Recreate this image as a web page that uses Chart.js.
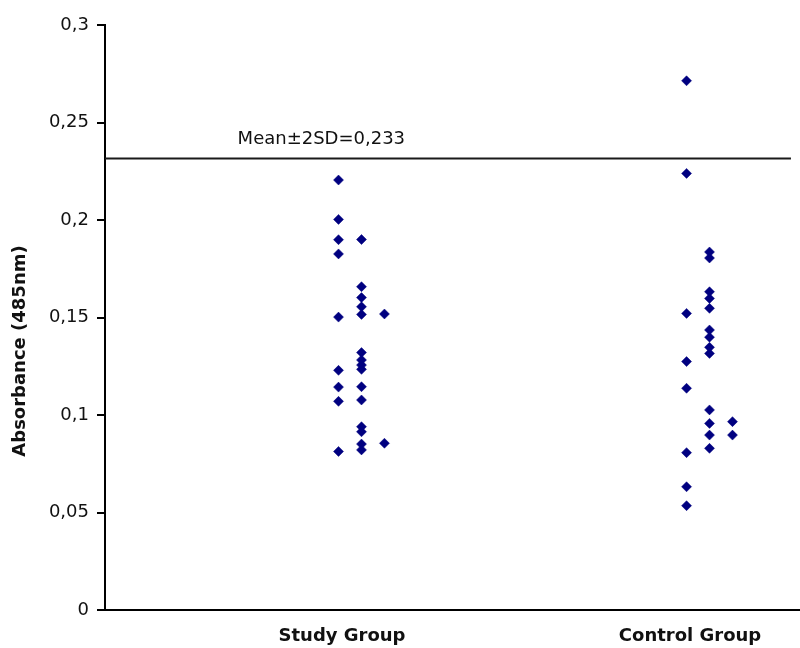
<!DOCTYPE html>
<html>
<head>
<meta charset="utf-8">
<script src="https://cdn.jsdelivr.net/npm/chart.js@4.4.0/dist/chart.umd.min.js"></script>
<style>
  body { margin: 0; background: #fff; }
  #wrap { width: 800px; height: 648px; }
</style>
</head>
<body>
<div id="wrap"><canvas id="chart" width="800" height="648"></canvas></div>
<script>
// groups on the x axis
const groups = ['Study Group', 'Control Group'];
const groupPositions = [1, 2];

// absorbance readings, with the column each dot sits in (0 = left, 1 = middle, 2 = right)
const studyValues = [
  0.2205, 0.2003, 0.1899, 0.1826, 0.1502, 0.1229, 0.1143, 0.1070, 0.0813,
  0.1900, 0.1658, 0.1602, 0.1555, 0.1516, 0.1320, 0.1282, 0.1256, 0.1234,
  0.1145, 0.1077, 0.0940, 0.0914, 0.0851, 0.0821,
  0.1518, 0.0855
];
const studyColumns = [
  0, 0, 0, 0, 0, 0, 0, 0, 0,
  1, 1, 1, 1, 1, 1, 1, 1, 1,
  1, 1, 1, 1, 1, 1,
  2, 2
];
const controlValues = [
  0.2714, 0.2239, 0.1521, 0.1274, 0.1137, 0.0807, 0.0632, 0.0535,
  0.1836, 0.1805, 0.1632, 0.1598, 0.1547, 0.1436, 0.1399, 0.1347, 0.1316,
  0.1026, 0.0957, 0.0897, 0.0829,
  0.0966, 0.0897
];
const controlColumns = [
  0, 0, 0, 0, 0, 0, 0, 0,
  1, 1, 1, 1, 1, 1, 1, 1, 1,
  1, 1, 1, 1,
  2, 2
];

const meanLine = 0.2315;
const meanLabel = 'Mean±2SD=0,233';
const yTickLabels = ['0', '0,05', '0,1', '0,15', '0,2', '0,25', '0,3'];
const yTitle = 'Absorbance (485nm)';

const X_MIN = 0.319, X_MAX = 2.316;
const FONT = '"DejaVu Sans", sans-serif';

function toPoints(values, columns, groupIndex) {
  return values.map((v, i) => ({
    x: groupPositions[groupIndex] - 0.01 + columns[i] * 0.066,
    y: v
  }));
}

const extraText = {
  id: 'extraText',
  afterDatasetsDraw(chart) {
    const ctx = chart.ctx;
    const xs = chart.scales.x, ys = chart.scales.y;
    ctx.save();
    ctx.fillStyle = '#111';
    ctx.font = '18px ' + FONT;
    ctx.textAlign = 'left';
    ctx.textBaseline = 'alphabetic';
    ctx.fillText(meanLabel, xs.getPixelForValue(0.7), ys.getPixelForValue(meanLine) - 15);

    ctx.font = 'bold 18px ' + FONT;
    ctx.translate(20, 351);
    ctx.rotate(-Math.PI / 2);
    ctx.textAlign = 'center';
    ctx.textBaseline = 'middle';
    ctx.fillText(yTitle, 0, 0);
    ctx.restore();
  }
};

const dotStyle = {
  pointStyle: 'rectRot',
  pointRadius: 5,
  pointBackgroundColor: '#000080',
  pointBorderColor: '#000080',
  pointBorderWidth: 0.5,
  showLine: false
};

new Chart(document.getElementById('chart'), {
  type: 'scatter',
  data: {
    datasets: [
      Object.assign({ label: groups[0], data: toPoints(studyValues, studyColumns, 0) }, dotStyle),
      Object.assign({ label: groups[1], data: toPoints(controlValues, controlColumns, 1) }, dotStyle),
      {
        type: 'line',
        label: 'mean',
        data: [{ x: X_MIN, y: meanLine }, { x: 2.29, y: meanLine }],
        borderColor: '#1a1a1a',
        borderWidth: 2,
        pointRadius: 0,
        fill: false
      }
    ]
  },
  options: {
    responsive: false,
    devicePixelRatio: 1,
    animation: false,
    layout: { autoPadding: false, padding: { top: 25, left: 0, right: 0, bottom: 0 } },
    plugins: {
      legend: { display: false },
      tooltip: { enabled: false }
    },
    scales: {
      x: {
        type: 'linear',
        min: X_MIN,
        max: X_MAX,
        afterBuildTicks: (scale) => {
          scale.ticks = groupPositions.map(v => ({ value: v }));
        },
        afterFit: (scale) => { scale.height = 38; },
        ticks: {
          autoSkip: false,
          maxRotation: 0,
          padding: 16,
          color: '#111',
          font: { family: FONT, size: 18, weight: 'bold' },
          callback: (value) => groups[groupPositions.indexOf(value)]
        },
        grid: { display: true, drawOnChartArea: false, drawTicks: false },
        border: { display: true, color: '#000', width: 2 }
      },
      y: {
        min: 0,
        max: 0.3,
        afterFit: (scale) => { scale.width = 105; },
        ticks: {
          stepSize: 0.05,
          padding: 8,
          color: '#111',
          font: { family: FONT, size: 18 },
          callback: (value, index) => yTickLabels[index]
        },
        grid: { display: true, drawOnChartArea: false, drawTicks: true, tickLength: 8, color: '#000', lineWidth: 2 },
        border: { display: true, color: '#000', width: 2 }
      }
    }
  },
  plugins: [extraText]
});
</script>
</body>
</html>
